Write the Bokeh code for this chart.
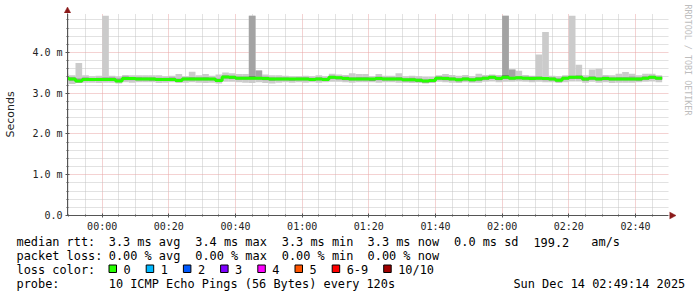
import math
from bokeh.plotting import figure
from bokeh.models import Range1d, FixedTicker
from bokeh.layouts import column, row
from bokeh.core.properties import value
from bokeh.embed import file_html
from bokeh.resources import INLINE

# ---------------- data (milliseconds, 2-minute steps, minutes from 00:00) ----------------
step_minutes = 2
first_step = -12
med = [3.37, 3.35, 3.30, 3.34, 3.34, 3.34, 3.34, 3.34, 3.30, 3.36,
       3.36, 3.35, 3.35, 3.35, 3.34, 3.34, 3.34, 3.31, 3.35, 3.35,
       3.35, 3.35, 3.35, 3.31, 3.40, 3.39, 3.37, 3.37, 3.37, 3.37,
       3.36, 3.35, 3.35, 3.35, 3.35, 3.35, 3.35, 3.34, 3.35, 3.34,
       3.39, 3.38, 3.36, 3.35, 3.35, 3.35, 3.35, 3.36, 3.35, 3.35,
       3.35, 3.33, 3.33, 3.32, 3.30, 3.31, 3.37, 3.36, 3.35, 3.33,
       3.35, 3.33, 3.35, 3.37, 3.39, 3.36, 3.39, 3.37, 3.38, 3.37,
       3.36, 3.37, 3.36, 3.35, 3.32, 3.37, 3.39, 3.39, 3.35, 3.37,
       3.35, 3.36, 3.35, 3.35, 3.35, 3.35, 3.35, 3.37, 3.39, 3.37]
smoke_hi = [3.48, 3.44, 3.74, 3.44, 3.42, 3.43, 4.90, 3.43, 3.41, 3.45,
            3.44, 3.44, 3.44, 3.44, 3.44, 3.42, 3.43, 3.47, 3.42, 3.53,
            3.44, 3.47, 3.43, 3.46, 3.51, 3.49, 3.47, 3.47, 4.90, 3.56,
            3.46, 3.44, 3.44, 3.43, 3.42, 3.42, 3.43, 3.42, 3.44, 3.42,
            3.48, 3.46, 3.45, 3.49, 3.47, 3.47, 3.42, 3.47, 3.43, 3.43,
            3.49, 3.42, 3.43, 3.42, 3.40, 3.40, 3.44, 3.47, 3.45, 3.43,
            3.45, 3.42, 3.48, 3.45, 3.46, 3.45, 4.90, 3.58, 3.55, 3.45,
            3.43, 3.95, 4.50, 3.43, 3.42, 3.44, 4.90, 3.70, 3.44, 3.58,
            3.60, 3.45, 3.44, 3.48, 3.52, 3.48, 3.44, 3.48, 3.48, 3.44]
smoke_lo = [3.22, 3.23, 3.25, 3.26, 3.26, 3.25, 3.26, 3.26, 3.24, 3.27,
            3.26, 3.27, 3.27, 3.27, 3.25, 3.26, 3.27, 3.25, 3.26, 3.27,
            3.26, 3.25, 3.26, 3.24, 3.28, 3.28, 3.27, 3.26, 3.25, 3.27,
            3.25, 3.24, 3.26, 3.27, 3.26, 3.27, 3.26, 3.27, 3.26, 3.27,
            3.28, 3.28, 3.27, 3.26, 3.27, 3.27, 3.27, 3.26, 3.27, 3.27,
            3.26, 3.26, 3.25, 3.25, 3.24, 3.25, 3.28, 3.27, 3.26, 3.25,
            3.27, 3.26, 3.26, 3.28, 3.29, 3.27, 3.28, 3.28, 3.29, 3.28,
            3.27, 3.28, 3.27, 3.27, 3.25, 3.27, 3.29, 3.29, 3.26, 3.28,
            3.26, 3.27, 3.25, 3.26, 3.26, 3.26, 3.27, 3.28, 3.29, 3.27]
mid_hi = [3.42, 3.40, 3.37, 3.39, 3.37, 3.38, 3.39, 3.39, 3.37, 3.42,
          3.40, 3.40, 3.39, 3.39, 3.38, 3.38, 3.39, 3.36, 3.39, 3.40,
          3.39, 3.40, 3.38, 3.36, 3.44, 3.43, 3.41, 3.41, 4.90, 3.56,
          3.41, 3.39, 3.39, 3.39, 3.38, 3.39, 3.39, 3.38, 3.39, 3.38,
          3.43, 3.42, 3.41, 3.39, 3.40, 3.40, 3.38, 3.41, 3.39, 3.39,
          3.40, 3.37, 3.38, 3.36, 3.34, 3.35, 3.42, 3.41, 3.39, 3.37,
          3.39, 3.37, 3.40, 3.41, 3.43, 3.41, 4.90, 3.58, 3.42, 3.41,
          3.41, 3.41, 3.40, 3.39, 3.37, 3.41, 3.43, 3.44, 3.39, 3.42,
          3.39, 3.41, 3.39, 3.40, 3.40, 3.41, 3.39, 3.42, 3.43, 3.41]
mid_lo = [3.32, 3.31, 3.26, 3.30, 3.30, 3.30, 3.30, 3.30, 3.27, 3.32,
          3.32, 3.31, 3.31, 3.31, 3.30, 3.30, 3.30, 3.28, 3.31, 3.31,
          3.31, 3.31, 3.31, 3.28, 3.36, 3.35, 3.33, 3.33, 3.33, 3.33,
          3.32, 3.31, 3.31, 3.31, 3.31, 3.31, 3.31, 3.30, 3.31, 3.30,
          3.35, 3.34, 3.32, 3.31, 3.31, 3.31, 3.31, 3.32, 3.31, 3.31,
          3.31, 3.29, 3.29, 3.28, 3.26, 3.27, 3.33, 3.32, 3.31, 3.29,
          3.31, 3.29, 3.31, 3.33, 3.35, 3.32, 3.35, 3.33, 3.34, 3.33,
          3.32, 3.33, 3.32, 3.31, 3.28, 3.33, 3.35, 3.35, 3.31, 3.33,
          3.31, 3.32, 3.31, 3.31, 3.31, 3.31, 3.31, 3.33, 3.35, 3.33]
core_hi = [3.39, 3.37, 3.33, 3.36, 3.35, 3.36, 3.36, 3.36, 3.33, 3.38,
           3.38, 3.37, 3.37, 3.37, 3.36, 3.36, 3.36, 3.34, 3.37, 3.37,
           3.37, 3.37, 3.37, 3.33, 3.42, 3.41, 3.39, 3.39, 3.42, 3.39,
           3.38, 3.37, 3.37, 3.37, 3.36, 3.37, 3.37, 3.36, 3.37, 3.36,
           3.41, 3.40, 3.39, 3.37, 3.37, 3.37, 3.37, 3.38, 3.37, 3.37,
           3.37, 3.35, 3.35, 3.34, 3.32, 3.33, 3.40, 3.38, 3.37, 3.35,
           3.37, 3.35, 3.37, 3.39, 3.41, 3.38, 3.44, 3.40, 3.40, 3.39,
           3.39, 3.40, 3.38, 3.37, 3.34, 3.39, 3.41, 3.42, 3.37, 3.40,
           3.37, 3.39, 3.37, 3.37, 3.37, 3.37, 3.37, 3.39, 3.42, 3.39]
core_lo = [3.34, 3.32, 3.28, 3.32, 3.32, 3.32, 3.32, 3.31, 3.28, 3.34,
           3.33, 3.33, 3.33, 3.32, 3.32, 3.31, 3.32, 3.29, 3.33, 3.33,
           3.33, 3.33, 3.33, 3.29, 3.38, 3.36, 3.35, 3.35, 3.35, 3.35,
           3.34, 3.32, 3.33, 3.33, 3.32, 3.33, 3.33, 3.31, 3.33, 3.32,
           3.37, 3.35, 3.34, 3.33, 3.33, 3.33, 3.31, 3.34, 3.33, 3.33,
           3.33, 3.31, 3.30, 3.29, 3.28, 3.29, 3.35, 3.34, 3.33, 3.31,
           3.33, 3.30, 3.32, 3.35, 3.37, 3.34, 3.37, 3.35, 3.36, 3.35,
           3.34, 3.35, 3.33, 3.33, 3.30, 3.35, 3.37, 3.37, 3.32, 3.35,
           3.33, 3.34, 3.33, 3.33, 3.33, 3.33, 3.32, 3.35, 3.37, 3.35]

x_ticks = [0, 20, 40, 60, 80, 100, 120, 140, 160]
x_tick_labels = ["00:00", "00:20", "00:40", "01:00", "01:20", "01:40", "02:00", "02:20", "02:40"]
y_ticks = [0, 1, 2, 3, 4]
y_tick_labels = ["0.0", "1.0 m", "2.0 m", "3.0 m", "4.0 m"]

loss_labels = ["0", "1", "2", "3", "4", "5", "6-9", "10/10"]
loss_colors = ["#26ff00", "#00b8ff", "#0059ff", "#7e00ff", "#ff00ff", "#ff5500", "#ff0000", "#a00000"]

stats_rtt = ["median rtt:", "3.3 ms avg", "3.4 ms max", "3.3 ms min", "3.3 ms now", "0.0 ms sd", "199.2", "am/s"]
stats_loss = ["packet loss:", "0.00 % avg", "0.00 % max", "0.00 % min", "0.00 % now"]
probe_text = ["probe:", "10 ICMP Echo Pings (56 Bytes) every 120s"]
stamp = "Sun Dec 14 02:49:14 2025"
credit = "RRDTOOL / TOBI OETIKER"

# ---------------- geometry (page pixels) ----------------
W, H = 697, 297
TOP_H = 13          # strip above the plot frame (holds the y-axis arrow)
UPPER_H = 234       # arrow strip + plot, above the legend block
FRAME_L, FRAME_R, FRAME_B = 67, 668, 215
ROW_H = UPPER_H - TOP_H
W_MAIN = FRAME_R + 1
MONO = "DejaVu Sans Mono"
ARROW_RED = "#8b1a1a"

X0, X1 = -10.4, 169.9
Y0, Y1 = 0.0, 4.957


def no_align(fig):
    if hasattr(fig, "frame_align"):
        fig.frame_align = False


def blank(width, height, xr, yr):
    f = figure(width=width, height=height, output_backend="svg", toolbar_location=None,
               x_range=Range1d(*xr), y_range=Range1d(*yr),
               x_axis_location=None, y_axis_location=None,
               min_border_left=0, min_border_right=0, min_border_top=0, min_border_bottom=0)
    no_align(f)
    f.outline_line_color = None
    f.xgrid.visible = False
    f.ygrid.visible = False
    f.background_fill_color = "white"
    f.border_fill_color = "white"
    return f


# ---------------- top strip: y-axis arrow head ----------------
t = blank(W_MAIN, TOP_H, (0, W_MAIN), (TOP_H, 0))
t.segment(x0=[FRAME_L], y0=[TOP_H], x1=[FRAME_L], y1=[9], line_color="#555555", line_width=1)
t.patch(x=[FRAME_L - 3.5, FRAME_L + 3.5, FRAME_L], y=[TOP_H, TOP_H, 6.5],
        fill_color=ARROW_RED, line_color=ARROW_RED, line_width=0.5)

# ---------------- main graph ----------------
starts = [first_step + step_minutes * k for k in range(len(med))]
ends = [s + step_minutes for s in starts]

p = figure(width=W_MAIN, height=ROW_H, output_backend="svg", toolbar_location=None,
           x_range=Range1d(X0, X1), y_range=Range1d(Y0, Y1),
           min_border_left=FRAME_L, min_border_right=W_MAIN - FRAME_R, min_border_top=0,
           min_border_bottom=ROW_H - (FRAME_B - TOP_H))
no_align(p)
p.outline_line_color = None
p.background_fill_color = "white"
p.border_fill_color = "white"

p.quad(left=starts, right=ends, bottom=smoke_lo, top=smoke_hi, fill_color="#cbcbcb", line_color=None)
p.quad(left=starts, right=ends, bottom=mid_lo, top=mid_hi, fill_color="#a3a3a3", line_color=None)
p.quad(left=starts, right=ends, bottom=core_lo, top=core_hi, fill_color="#6a6a6a", line_color=None)
p.step(x=starts + [ends[-1]], y=med + [med[-1]], mode="after", line_color=loss_colors[0], line_width=3)

minor_x = [m for m in range(-10, 170, 5) if m not in x_ticks]
minor_y = [v / 10 for v in range(2, 50, 2) if v % 10 != 0]

p.xaxis.ticker = FixedTicker(ticks=x_ticks, minor_ticks=minor_x)
p.yaxis.ticker = FixedTicker(ticks=y_ticks, minor_ticks=minor_y)
p.xaxis.major_label_overrides = {tk: lb for tk, lb in zip(x_ticks, x_tick_labels)}
p.yaxis.major_label_overrides = {tk: lb for tk, lb in zip(y_ticks, y_tick_labels)}

for ax in (p.xaxis[0], p.yaxis[0]):
    ax.axis_line_color = "#555555"
    ax.major_tick_line_color = "#555555"
    ax.minor_tick_line_color = "#555555"
    ax.major_tick_in = 2
    ax.major_tick_out = 2
    ax.minor_tick_in = 1
    ax.minor_tick_out = 1
    ax.major_label_text_font = MONO
    ax.major_label_text_font_size = "10px"
    ax.major_label_text_color = "#222222"
    ax.major_label_standoff = 3

p.yaxis.axis_label = "Seconds"
p.yaxis.axis_label_text_font = "DejaVu Sans"
p.yaxis.axis_label_text_font_size = "11px"
p.yaxis.axis_label_text_font_style = "normal"
p.yaxis.axis_label_text_color = "#222222"
p.yaxis.axis_label_standoff = 12

for g in (p.xgrid[0], p.ygrid[0]):
    g.grid_line_color = "#e8a4a4"
    g.grid_line_dash = "1 1"
    g.minor_grid_line_color = "#c4c4c4"
    g.minor_grid_line_dash = "1 1"
p.xgrid.ticker = p.xaxis.ticker
p.ygrid.ticker = p.yaxis.ticker

# ---------------- right strip (full upper height): x-axis arrow head + credit text ----------------
r = blank(W - W_MAIN, UPPER_H, (W_MAIN, W), (UPPER_H, 0))
r.segment(x0=[W_MAIN], y0=[FRAME_B], x1=[671], y1=[FRAME_B], line_color="#555555", line_width=1)
r.patch(x=[W_MAIN, W_MAIN, 675.5], y=[FRAME_B - 3.5, FRAME_B + 3.5, FRAME_B],
        fill_color=ARROW_RED, line_color=ARROW_RED, line_width=0.5)
r.text(x=[687.5], y=[4], text=[credit], angle=-math.pi / 2,
       text_font=value(MONO), text_font_size="8.4px", text_color="#bdbdbd",
       text_align="left", text_baseline="middle")

# ---------------- legend block (page pixel coordinates) ----------------
q = blank(W, H - UPPER_H, (0, W), (H, UPPER_H))

CW = 7.15
FS = "11.9px"


def line(tokens, cols, y):
    q.text(x=[16 + c * CW for c in cols], y=[y] * len(tokens), text=tokens,
           text_font=value(MONO), text_font_size=FS, text_color="#000000",
           text_baseline="middle", text_align="left")


line(stats_rtt, [0, 12.9, 25, 37.1, 49.1, 61.2, 72.3, 80.4], 241.5)
line(stats_loss, [0, 12.9, 25, 37.1, 49.1], 255.5)
line(["loss color:"], [0], 269)
line(probe_text, [0, 12.9], 283)
line([stamp], [69.5], 283)

bx = 108.5
box_l, box_r, lab_x = [], [], []
for lab in loss_labels:
    box_l.append(bx)
    box_r.append(bx + 7.5)
    lab_x.append(bx + 14.5)
    bx += 30.05 + CW * len(lab)
q.quad(left=box_l, right=box_r, top=[264.5] * len(loss_labels), bottom=[272] * len(loss_labels),
       fill_color=loss_colors, line_color="#000000", line_width=1)
q.text(x=lab_x, y=[269] * len(loss_labels), text=loss_labels, text_font=value(MONO), text_font_size=FS,
       text_color="#000000", text_baseline="middle", text_align="left")

layout = column(row(column(t, p, spacing=0), r, spacing=0), q, spacing=0)
open("out.html", "w").write(file_html(layout, INLINE))
